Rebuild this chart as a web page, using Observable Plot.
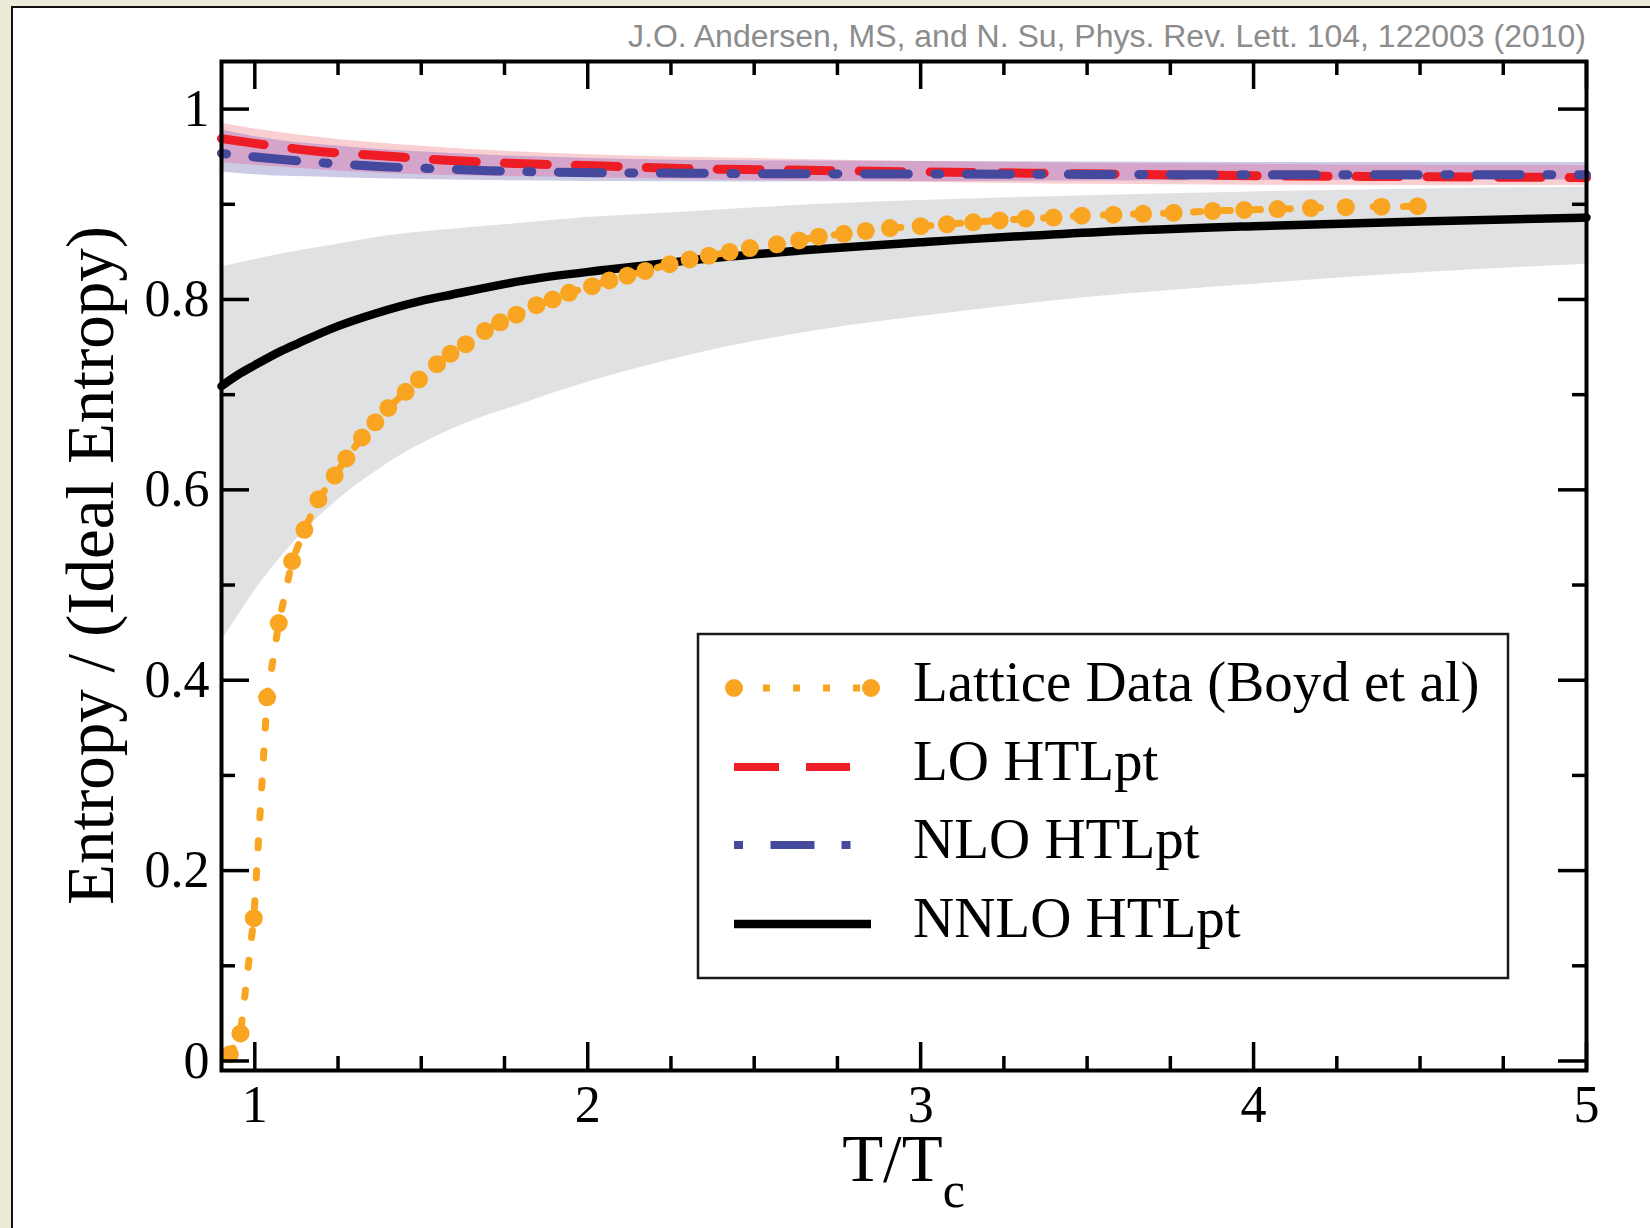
<!DOCTYPE html>
<html><head><meta charset="utf-8">
<script src="https://cdn.jsdelivr.net/npm/d3@7"></script>
<script src="https://cdn.jsdelivr.net/npm/@observablehq/plot@0.6"></script>
<style>
html,body{margin:0;padding:0;width:1650px;height:1228px;overflow:hidden;background:#EDEAD7;}
#panel{position:absolute;left:11px;top:6px;width:1660px;height:1240px;background:#fff;border-left:2px solid #111;border-top:2px solid #111;}
#chart{position:absolute;left:0;top:0;}
</style></head><body><div id="panel"></div><div id="chart"></div>
<script>
// Lattice data (Boyd et al)
const latticeT = [0.925,0.957,0.997,1.037,1.072,1.112,1.149,1.191,1.240,1.275,1.322,1.362,1.401,1.453,1.493,1.547,1.588,1.634,1.691,1.737,1.786,1.846,1.895,1.944,2.013,2.065,2.119,2.173,2.246,2.306,2.364,2.426,2.487,2.568,2.635,2.694,2.769,2.835,2.908,3.000,3.079,3.158,3.237,3.316,3.399,3.484,3.579,3.668,3.760,3.877,3.972,4.072,4.172,4.277,4.384,4.493];
const latticeS = [0.007,0.029,0.150,0.382,0.460,0.525,0.558,0.590,0.615,0.633,0.655,0.671,0.686,0.703,0.716,0.732,0.743,0.753,0.767,0.776,0.784,0.794,0.800,0.807,0.814,0.820,0.825,0.830,0.837,0.842,0.846,0.850,0.854,0.858,0.862,0.866,0.869,0.872,0.875,0.877,0.879,0.881,0.883,0.885,0.886,0.888,0.889,0.890,0.891,0.893,0.894,0.895,0.896,0.897,0.8975,0.898];

// LO HTLpt central curve
const loT = [0.9,1.0,1.18,1.38,1.59,1.81,2.02,2.23,2.6,3.0,3.5,4.0,4.5,5.0];
const loS = [0.969,0.964,0.956,0.951,0.946,0.9425,0.9405,0.938,0.936,0.934,0.932,0.930,0.929,0.928];

// NLO HTLpt central curve
const nloT = [0.9,1.065,1.225,1.384,1.543,1.703,1.864,2.024,2.18,2.6,3.0,3.5,4.0,4.5,5.0];
const nloS = [0.9535,0.9475,0.943,0.9395,0.9374,0.9353,0.934,0.9332,0.9329,0.932,0.9318,0.9314,0.931,0.931,0.931];

// NNLO HTLpt central curve
const nnloT = [0.9,0.95,1.0,1.08,1.13,1.25,1.36,1.5,1.59,1.82,2.05,2.28,2.7,3.0,3.54,4.0,4.5,5.0];
const nnloS = [0.709,0.721,0.731,0.746,0.754,0.772,0.785,0.7985,0.805,0.8206,0.831,0.840,0.853,0.860,0.871,0.877,0.882,0.886];

// NNLO uncertainty band
const nnloBandT = [0.9,0.95,1.0,1.1,1.2,1.4,1.6,1.8,2.0,2.3,2.7,3.0,3.5,4.0,4.5,5.0];
const nnloBandHi = [0.834,0.838,0.842,0.849,0.855,0.867,0.874,0.880,0.886,0.892,0.900,0.904,0.909,0.913,0.916,0.918];
const nnloBandLo = [0.441,0.468,0.494,0.538,0.574,0.628,0.665,0.690,0.713,0.741,0.768,0.782,0.802,0.816,0.828,0.837];

// LO and NLO uncertainty bands
const bandT = [0.9,1.0,1.25,1.5,2.0,2.5,3.0,3.5,4.0,4.5,5.0];
const loBandHi = [0.985,0.979,0.968,0.961,0.952,0.948,0.945,0.943,0.942,0.941,0.9405];
const loBandLo = [0.944,0.941,0.935,0.931,0.928,0.925,0.923,0.921,0.920,0.9198,0.9195];
const nloBandHi = [0.978,0.971,0.961,0.955,0.948,0.9455,0.945,0.9445,0.944,0.944,0.944];
const nloBandLo = [0.934,0.931,0.928,0.926,0.924,0.9235,0.924,0.9245,0.925,0.9252,0.9255];

// Axis ticks
const xMajor = [1,2,3,4,5];
const xMinor = [1.25,1.5,1.75,2.25,2.5,2.75,3.25,3.5,3.75,4.25,4.5,4.75];
const yMajor = [0,0.2,0.4,0.6,0.8,1];
const yMinor = [0.1,0.3,0.5,0.7,0.9];

const legendLabels = ["Lattice Data (Boyd et al)","LO HTLpt","NLO HTLpt","NNLO HTLpt"];
const citation = "J.O. Andersen, MS, and N. Su, Phys. Rev. Lett. 104, 122003 (2010)";

const ORANGE = "#F9A521", RED = "#EE1D25", BLUE = "#44499D", GRAY = "#E0E1E3";
const PINK = "#F9CFD2", LAVENDER = "#CCCBE6", OVERLAP = "#D5A4CA";

const lattice = latticeT.map((t,i)=>({t, s: latticeS[i]}));
const lo = loT.map((t,i)=>({t, s: loS[i]}));
const nlo = nloT.map((t,i)=>({t, s: nloS[i]}));
const nnlo = nnloT.map((t,i)=>({t, s: nnloS[i]}));
const nnloBand = nnloBandT.map((t,i)=>({t, lo: nnloBandLo[i], hi: nnloBandHi[i]}));
const loBand = bandT.map((t,i)=>({t, lo: loBandLo[i], hi: loBandHi[i]}));
const nloBand = bandT.map((t,i)=>({t, lo: nloBandLo[i], hi: nloBandHi[i]}));
// where the LO and NLO bands overlap (both drawn translucent in the original)
const overlapBand = bandT.map((t,i)=>({t, lo: Math.max(loBandLo[i], nloBandLo[i]), hi: Math.min(loBandHi[i], nloBandHi[i])}));

const W = 1650, H = 1228;
const mL = 221, mR = 64, mT = 61, mB = 158;
const fw = W - mL - mR, fh = H - mT - mB;
const MAJ = 28, MIN = 14, TW = 3.5;

const plot = Plot.plot({
  width: W, height: H,
  marginLeft: mL, marginRight: mR, marginTop: mT, marginBottom: mB,
  style: {background: "none", fontFamily: "'Liberation Serif', 'Times New Roman', serif", overflow: "visible"},
  x: {domain: [0.9, 5], axis: null},
  y: {domain: [-0.01, 1.05], axis: null},
  marks: [
    Plot.areaY(nnloBand, {x: "t", y1: "lo", y2: "hi", fill: GRAY, curve: "monotone-x"}),
    Plot.areaY(loBand, {x: "t", y1: "lo", y2: "hi", fill: PINK, curve: "monotone-x"}),
    Plot.areaY(nloBand, {x: "t", y1: "lo", y2: "hi", fill: LAVENDER, curve: "monotone-x"}),
    Plot.areaY(overlapBand, {x: "t", y1: "lo", y2: "hi", fill: OVERLAP, curve: "monotone-x"}),
    Plot.line(lo, {x: "t", y: "s", stroke: RED, strokeWidth: 9, strokeDasharray: "43,28", curve: "monotone-x"}),
    Plot.line(nlo, {x: "t", y: "s", stroke: BLUE, strokeWidth: 9, strokeDasharray: "5,26.5,44,26.5", curve: "monotone-x"}),
    Plot.line(nnlo, {x: "t", y: "s", stroke: "black", strokeWidth: 8.5, curve: "monotone-x"}),
    Plot.line(lattice, {x: "t", y: "s", stroke: ORANGE, strokeWidth: 7, strokeDasharray: "7,23"}),
    Plot.dot(lattice, {x: "t", y: "s", r: 9, fill: ORANGE}),
    // ticks (inward, on all four sides)
    Plot.ruleX(xMajor, {x: d => d, insetTop: fh - MAJ, strokeWidth: TW}),
    Plot.ruleX(xMinor, {x: d => d, insetTop: fh - MIN, strokeWidth: TW}),
    Plot.ruleX(xMajor, {x: d => d, insetBottom: fh - MAJ, strokeWidth: TW}),
    Plot.ruleX(xMinor, {x: d => d, insetBottom: fh - MIN, strokeWidth: TW}),
    Plot.ruleY(yMajor, {y: d => d, insetRight: fw - MAJ, strokeWidth: TW}),
    Plot.ruleY(yMinor, {y: d => d, insetRight: fw - MIN, strokeWidth: TW}),
    Plot.ruleY(yMajor, {y: d => d, insetLeft: fw - MAJ, strokeWidth: TW}),
    Plot.ruleY(yMinor, {y: d => d, insetLeft: fw - MIN, strokeWidth: TW}),
    Plot.frame({stroke: "black", strokeWidth: 4}),
    // tick labels
    Plot.text(xMajor, {x: d => d, frameAnchor: "bottom", lineAnchor: "top", dy: 15, text: d => String(d), fontSize: 52, fill: "black"}),
    Plot.text(yMajor, {y: d => d, frameAnchor: "left", textAnchor: "end", dx: -12, text: d => String(d), fontSize: 52, fill: "black"})
  ]
});
document.getElementById("chart").appendChild(plot);

const svg = d3.select(plot);
const serif = "'Liberation Serif', 'Times New Roman', serif";

// x-axis title with subscript
const xt = svg.append("text")
  .attr("x", mL + fw / 2).attr("y", 1181)
  .attr("text-anchor", "middle")
  .attr("font-family", serif).attr("font-size", 67).attr("fill", "black");
xt.append("tspan").text("T/T");
xt.append("tspan").attr("font-size", 50).attr("dy", 26).text("c");

// y-axis title
svg.append("text")
  .attr("transform", `translate(113,${mT + fh / 2}) rotate(-90)`)
  .attr("text-anchor", "middle")
  .attr("font-family", serif).attr("font-size", 67).attr("fill", "black")
  .text("Entropy / (Ideal Entropy)");

// citation
svg.append("text")
  .attr("x", 1586).attr("y", 47)
  .attr("text-anchor", "end")
  .attr("font-family", "'Liberation Sans', Arial, sans-serif").attr("font-size", 31)
  .attr("fill", "#8C8C8C")
  .attr("textLength", 958).attr("lengthAdjust", "spacingAndGlyphs")
  .text(citation);

// legend
const lg = svg.append("g");
lg.append("rect").attr("x", 698).attr("y", 634).attr("width", 810).attr("height", 344)
  .attr("fill", "white").attr("stroke", "#1a1a1a").attr("stroke-width", 2.5);
const rowY = [688, 767, 845, 924];
lg.append("line").attr("x1", 733).attr("x2", 871).attr("y1", rowY[0]).attr("y2", rowY[0])
  .attr("stroke", ORANGE).attr("stroke-width", 7).attr("stroke-dasharray", "7,23");
lg.append("circle").attr("cx", 734).attr("cy", rowY[0]).attr("r", 9).attr("fill", ORANGE);
lg.append("circle").attr("cx", 871).attr("cy", rowY[0]).attr("r", 9).attr("fill", ORANGE);
lg.append("line").attr("x1", 734).attr("x2", 850).attr("y1", rowY[1]).attr("y2", rowY[1])
  .attr("stroke", RED).attr("stroke-width", 8).attr("stroke-dasharray", "45,27");
lg.append("line").attr("x1", 734).attr("x2", 851).attr("y1", rowY[2]).attr("y2", rowY[2])
  .attr("stroke", BLUE).attr("stroke-width", 8).attr("stroke-dasharray", "9,27.5,44,27");
lg.append("line").attr("x1", 734).attr("x2", 871).attr("y1", rowY[3]).attr("y2", rowY[3])
  .attr("stroke", "black").attr("stroke-width", 8.5);
legendLabels.forEach((s, i) => {
  lg.append("text").attr("x", 913).attr("y", rowY[i] + 13)
    .attr("text-anchor", "start")
    .attr("font-family", serif).attr("font-size", 57).attr("fill", "black").text(s);
});
</script>
</body></html>
